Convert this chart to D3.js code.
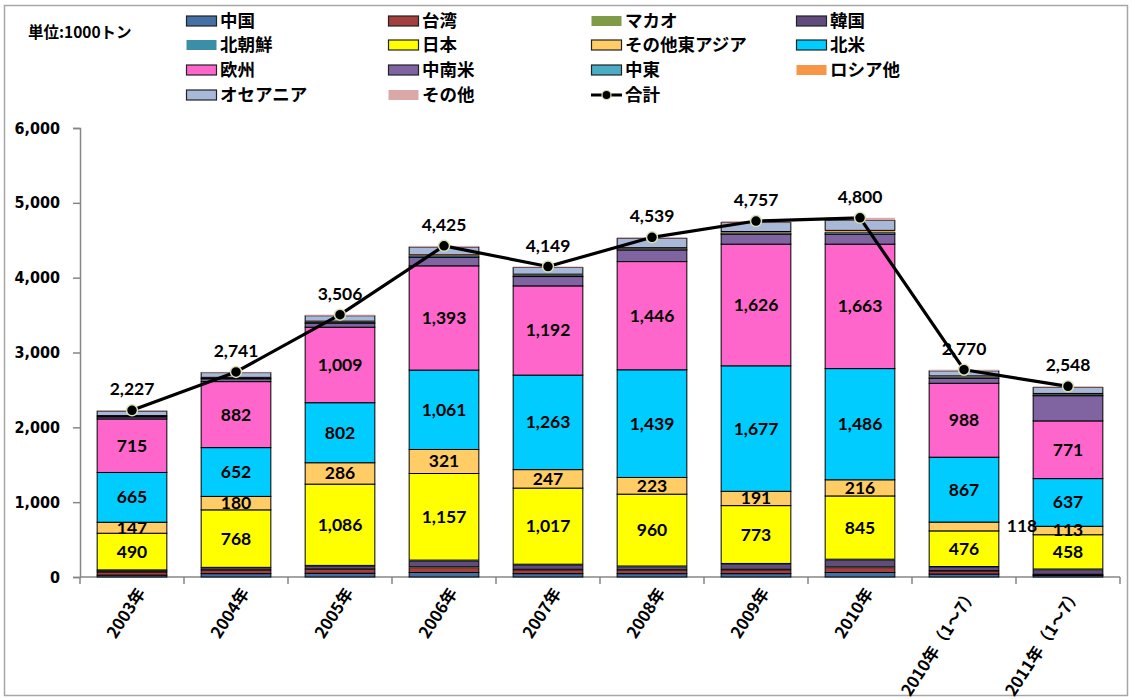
<!DOCTYPE html>
<html><head><meta charset="utf-8">
<script src="https://cdn.jsdelivr.net/npm/d3@7"></script>
<style>
html,body{margin:0;padding:0;background:#fff;}
svg{display:block;}
</style>
</head><body>
<svg id="chart" width="1132" height="699"></svg>
<script>
// ---- data ----
const categories = ["2003年","2004年","2005年","2006年","2007年","2008年","2009年","2010年","2010年（1～7）","2011年（1～7）"];
const yTicks = [0,1000,2000,3000,4000,5000,6000];
const china        = [25,45,50,60,45,45,45,60,40,20];
const taiwan       = [42,47,52,65,50,45,50,65,40,15];
const macau        = [3,4,5,12,8,7,8,10,5,2];
const korea        = [20,28,40,77,58,40,68,90,45,60];
const northKorea   = [5,5,8,12,10,10,10,13,10,10];
const japan        = [490,768,1086,1157,1017,960,773,845,476,458];
const otherEastAsia= [147,180,286,321,247,223,191,216,118,113];
const northAmerica = [665,652,802,1061,1263,1439,1677,1486,867,637];
const europe       = [715,882,1009,1393,1192,1446,1626,1663,988,771];
const latinAmerica = [28,38,55,115,125,156,134,134,67,337];
const middleEast   = [12,12,16,20,20,20,20,25,20,20];
const russia       = [5,7,10,12,12,10,15,25,12,10];
const oceania      = [60,63,72,105,89,125,120,134,67,80];
const others       = [10,10,15,15,13,13,20,34,15,15];
const totals       = [2227,2741,3506,4425,4149,4539,4757,4800,2770,2548];

const seriesNames = ["中国","台湾","マカオ","韓国","北朝鮮","日本","その他東アジア","北米","欧州","中南米","中東","ロシア他","オセアニア","その他"];
const seriesValues = [china,taiwan,macau,korea,northKorea,japan,otherEastAsia,northAmerica,europe,latinAmerica,middleEast,russia,oceania,others];
const seriesColors = ["#4470a6","#a33f3c","#7f9b48","#624b7e","#3a8fa6","#ffff00","#ffcc66","#00ccff","#ff66cc","#8064a2","#4bacc6","#f79646","#a8b8d8","#dba8a8"];
const seriesStroked = [true,true,false,true,false,true,true,true,true,true,true,false,true,false];
const labeledSeries = ["日本","その他東アジア","北米","欧州"];
const totalName = "合計";

// ---- setup ----
const svg = d3.select("#chart");
const W = 1132, H = 699;
svg.append("rect").attr("x",4.5).attr("y",5.5).attr("width",W-9).attr("height",H-9)
  .attr("fill","#fff").attr("stroke","#a6a6a6").attr("stroke-width",1.5);

const x = d3.scaleBand().domain(categories).range([80,1120]).paddingInner(0.33).paddingOuter(0.165);
const y = d3.scaleLinear().domain([0,6000]).range([577,128]);

const rows = categories.map((c,i)=>{
  const o = {cat:c};
  seriesNames.forEach((n,j)=>o[n]=seriesValues[j][i]);
  return o;
});
const stack = d3.stack().keys(seriesNames)(rows);

// axes
const numFont = "'DejaVu Sans Condensed','DejaVu Sans',sans-serif";
const yAxis = svg.append("g").attr("transform","translate(80,0)")
  .call(d3.axisLeft(y).tickValues(yTicks).tickSize(7).tickFormat(d3.format(",")));
yAxis.select(".domain").attr("stroke","#868686").attr("stroke-width",1.5);
yAxis.selectAll(".tick line").attr("stroke","#868686").attr("stroke-width",1.5);
yAxis.selectAll(".tick text").attr("x",-20).attr("font-family",numFont).attr("font-weight","bold")
  .attr("font-size",16).attr("fill","#000");

// x axis baseline & ticks
const xg = svg.append("g");
xg.append("line").attr("x1",80).attr("x2",1120).attr("y1",577).attr("y2",577)
  .attr("stroke","#868686").attr("stroke-width",1.5);
const step = x.step();
d3.range(categories.length+1).forEach(i=>{
  const xx = 80 + i*step;
  xg.append("line").attr("x1",xx).attr("x2",xx).attr("y1",577).attr("y2",584)
    .attr("stroke","#868686").attr("stroke-width",1.5);
});
xg.selectAll("text.xl").data(categories).join("text").attr("class","xl")
  .attr("transform",d=>`translate(${x(d)+x.bandwidth()/2+14},${593}) rotate(-57)`)
  .attr("text-anchor","end").attr("font-family","'Noto Sans CJK JP',sans-serif")
  .attr("font-weight","bold").attr("font-size",16.5).attr("fill","#000").text(d=>d);

// bars
const bars = svg.append("g");
stack.forEach((s,j)=>{
  bars.append("g").selectAll("rect").data(s).join("rect")
    .attr("x",d=>x(d.data.cat)).attr("width",x.bandwidth())
    .attr("y",d=>y(d[1])).attr("height",d=>Math.max(0,y(d[0])-y(d[1])))
    .attr("fill",seriesColors[j])
    .attr("stroke",seriesStroked[j]?"#000":"none").attr("stroke-width",1);
});

// segment labels
const labelFont = "Lato,'Open Sans',sans-serif";
const labelShift = {"その他東アジア|2010年（1～7）":[58,0]};
stack.forEach((s,j)=>{
  if(!labeledSeries.includes(s.key)) return;
  bars.append("g").selectAll("text").data(s).join("text")
    .attr("x",d=>x(d.data.cat)+x.bandwidth()/2+((labelShift[s.key+"|"+d.data.cat]||[0,0])[0]))
    .attr("y",d=>(y(d[0])+y(d[1]))/2+6+((labelShift[s.key+"|"+d.data.cat]||[0,0])[1]))
    .attr("text-anchor","middle").attr("font-family",labelFont).attr("font-weight","bold")
    .attr("font-size",17.5).attr("fill","#000")
    .text(d=>d3.format(",")(d[1]-d[0]));
});

// total line
const cx = c=>x(c)+x.bandwidth()/2;
const line = d3.line().x((d,i)=>cx(categories[i])).y(d=>y(d));
svg.append("path").datum(totals).attr("d",line).attr("fill","none")
  .attr("stroke","#000").attr("stroke-width",3.2).attr("stroke-linejoin","round");
svg.append("g").selectAll("circle").data(totals).join("circle")
  .attr("cx",(d,i)=>cx(categories[i])).attr("cy",d=>y(d)).attr("r",5.5)
  .attr("fill","#000").attr("stroke","#d4e2b4").attr("stroke-width",1.5);
svg.append("g").selectAll("text").data(totals).join("text")
  .attr("x",(d,i)=>cx(categories[i])).attr("y",d=>y(d)-15)
  .attr("text-anchor","middle").attr("font-family",labelFont).attr("font-weight","bold")
  .attr("font-size",17.5).attr("fill","#000").text(d=>d3.format(",")(d));

// unit label
svg.append("text").attr("x",28).attr("y",38).attr("font-family","'Noto Sans CJK JP',sans-serif")
  .attr("font-weight","bold").attr("font-size",15.5).attr("fill","#000").text("単位:1000トン");

// legend
const legItems = seriesNames.map((n,j)=>({name:n,color:seriesColors[j],stroked:seriesStroked[j],type:"rect"}));
legItems.push({name:totalName,type:"line"});
const colX = [186,388,591,796];
const rowY = [21,45,70,95];
const lg = svg.append("g");
legItems.forEach((it,k)=>{
  const cxp = colX[k%4], cyp = rowY[Math.floor(k/4)];
  const g = lg.append("g").attr("transform",`translate(${cxp},${cyp})`);
  if(it.type==="rect"){
    g.append("rect").attr("x",0.5).attr("y",-5).attr("width",30).attr("height",10)
      .attr("fill",it.color).attr("stroke",it.stroked?"#222":"none").attr("stroke-width",1.2);
  } else {
    g.append("line").attr("x1",0).attr("x2",31).attr("y1",0).attr("y2",0).attr("stroke","#000").attr("stroke-width",3);
    g.append("circle").attr("cx",15.5).attr("cy",0).attr("r",4.5).attr("fill","#000").attr("stroke","#d4e2b4").attr("stroke-width",1.2);
  }
  g.append("text").attr("x",34).attr("y",0).attr("dy","0.36em")
    .attr("font-family","'Noto Sans CJK JP',sans-serif").attr("font-weight","bold")
    .attr("font-size",17.5).attr("fill","#000").text(it.name);
});
</script>
</body></html>
